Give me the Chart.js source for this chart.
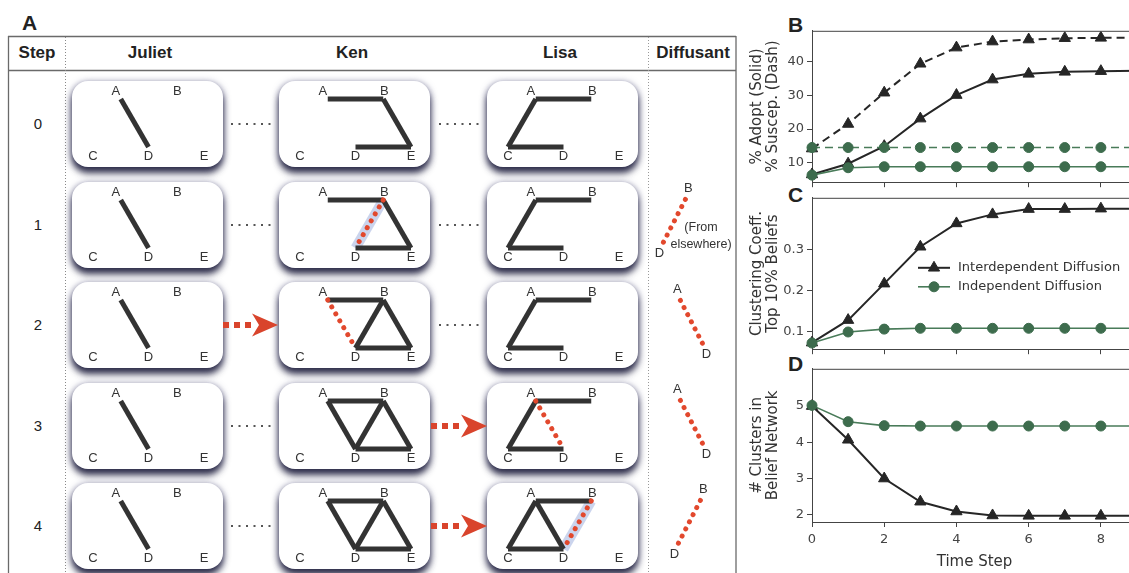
<!DOCTYPE html>
<html><head><meta charset="utf-8">
<script src="https://cdn.jsdelivr.net/npm/chart.js@4.4.1/dist/chart.umd.min.js"></script>
<style>
html,body{margin:0;padding:0;background:#fff;overflow:hidden;}
#page{position:relative;width:1129px;height:573px;overflow:hidden;font-family:"Liberation Sans",Arial,sans-serif;color:#222;}
.box{position:absolute;width:151px;height:86px;background:#fff;border-radius:16px;
 box-shadow:0 6px 7px rgba(30,30,60,0.9),0 1px 7px rgba(70,70,120,0.6);}
.box canvas,.free{position:absolute;left:0;top:0;}
.hdr{position:absolute;font-weight:bold;font-size:17px;line-height:20px;transform:translateX(-50%);white-space:nowrap;color:#222;}
.step{position:absolute;font-size:15px;line-height:18px;transform:translate(-50%,-50%);color:#222;}
.plab{position:absolute;font-weight:bold;font-size:21px;line-height:21px;color:#222;}
.note{position:absolute;font-size:12.5px;line-height:14px;color:#333;white-space:nowrap;transform:translate(-50%,-50%);}
</style></head>
<body><div id="page"></div>
<script>
// ================= DATA =================
const panelLetters = ['A','B','C','D'];
const columnHeaders = ['Step','Juliet','Ken','Lisa','Diffusant'];
const stepLabels = ['0','1','2','3','4'];
const nodeNames = ['A','B','C','D','E'];
const nodeX = [1, 3, 0, 2, 4];
const nodeY = [1, 1, 0, 0, 0];
const julietBeliefs = ['AD','AD','AD','AD','AD'];
const julietAdopting = ['','','','',''];
const julietHighlight = ['','','','',''];
const kenBeliefs = ['AB BE DE','AB BE DE','AB BE DE BD','AB BE DE BD AD','AB BE DE BD AD'];
const kenAdopting = ['','BD','AD','',''];
const kenHighlight = ['','BD','','',''];
const lisaBeliefs = ['AB AC CD','AB AC CD','AB AC CD','AB AC CD','AB AC CD AD'];
const lisaAdopting = ['','','','AD','BD'];
const lisaHighlight = ['','','','','BD'];
const diffusantEdges = ['','BD','AD','AD','BD'];
const diffusantNote = [[],['(From','elsewhere)'],[],[],[]];
const julietToKen = [0,0,1,0,0];   // 1 = transmission arrow, 0 = social tie
const kenToLisa  = [0,0,0,1,1];

const timeSteps = [0,1,2,3,4,5,6,7,8,9];
const seriesNames = ['Interdependent Diffusion','Independent Diffusion'];
const adoptInterdependent   = [6.5, 9.7, 14.9, 23.1, 30.1, 34.7, 36.4, 37.0, 37.2, 37.3];
const suscepInterdependent  = [14.2, 21.5, 30.8, 39.4, 44.2, 46.0, 46.6, 47.0, 47.1, 47.1];
const adoptIndependent      = [6.3, 8.5, 8.8, 8.8, 8.8, 8.8, 8.8, 8.8, 8.8, 8.8];
const suscepIndependent     = [14.5, 14.5, 14.5, 14.5, 14.5, 14.5, 14.5, 14.5, 14.5, 14.5];
const clusteringInterdependent = [0.072, 0.127, 0.216, 0.306, 0.363, 0.385, 0.398, 0.398, 0.399, 0.399];
const clusteringIndependent    = [0.071, 0.098, 0.105, 0.107, 0.107, 0.107, 0.107, 0.107, 0.107, 0.107];
const clustersInterdependent   = [5.0, 4.07, 3.0, 2.36, 2.09, 1.98, 1.97, 1.97, 1.97, 1.97];
const clustersIndependent      = [5.02, 4.57, 4.46, 4.45, 4.45, 4.45, 4.45, 4.45, 4.45, 4.45];
const xTickValues = [0,2,4,6,8];
const yTicksB = [10,20,30,40];
const yTicksC = [0.1,0.2,0.3];
const yTicksD = [2,3,4,5];
const yTitleB = ['% Adopt (Solid)','% Suscep. (Dash)'];
const yTitleC = ['Clustering Coeff.','Top 10% Beliefs'];
const yTitleD = ['# Clusters in','Belief Network'];
const xTitleD = 'Time Step';

// ================= LAYOUT / DRAWING =================
Chart.defaults.font.family = 'DejaVu Sans';
const page = document.getElementById('page');
function addDiv(cls, text, left, top){
  const d = document.createElement('div'); d.className = cls; d.textContent = text;
  d.style.left = left + 'px'; d.style.top = top + 'px'; page.appendChild(d); return d;
}
addDiv('plab', panelLetters[0], 22, 12);
addDiv('plab', panelLetters[1], 788, 14);
addDiv('plab', panelLetters[2], 788, 184);
addDiv('plab', panelLetters[3], 788, 353);
const hdrX = [37, 150, 352, 560, 693];
columnHeaders.forEach((h,i)=>addDiv('hdr', h, hdrX[i], 43));

const boxTops = stepLabels.map((s,i)=>Math.round(81 + 100.5*i));
const boxLeft = [72, 279, 487];

function splitEdges(s){ return s ? s.split(' ') : []; }
function edgeData(pair){
  const a = nodeNames.indexOf(pair[0]), b = nodeNames.indexOf(pair[1]);
  return [{x:nodeX[a], y:nodeY[a]}, {x:nodeX[b], y:nodeY[b]}];
}
const STYLE = {
  belief:{borderColor:'#333', borderWidth:5},
  adopting:{borderColor:'#e2482d', borderWidth:5, borderDash:[0.01,8], borderCapStyle:'round'},
  glow:{borderColor:'rgba(140,160,215,0.45)', borderWidth:10}
};
const labelPlugin = {
  id:'nodeLabels',
  beforeDatasetsDraw(chart, args, opts){
    const ctx = chart.ctx, xs = chart.scales.x, ys = chart.scales.y;
    ctx.save();
    ctx.font = '13px "Liberation Sans", Arial, sans-serif';
    ctx.fillStyle = '#333'; ctx.textAlign = 'center'; ctx.textBaseline = 'middle';
    (opts.labels||[]).forEach(l=>ctx.fillText(l.text, xs.getPixelForValue(l.x)+l.dx, ys.getPixelForValue(l.y)+l.dy));
    ctx.restore();
  }
};
function makeNet(parent, w, h, xr, yr, beliefs, adopting, highlight, labels){
  const c = document.createElement('canvas');
  c.width = w; c.height = h; c.style.width = w+'px'; c.style.height = h+'px';
  parent.appendChild(c);
  const datasets = [];
  splitEdges(highlight).forEach(e=>datasets.push(Object.assign({data:edgeData(e), order:3}, STYLE.glow)));
  splitEdges(beliefs).forEach(e=>datasets.push(Object.assign({data:edgeData(e), order:2}, STYLE.belief)));
  splitEdges(adopting).forEach(e=>datasets.push(Object.assign({data:edgeData(e), order:1}, STYLE.adopting)));
  datasets.forEach(d=>{ d.showLine = true; d.pointRadius = 0; d.pointHoverRadius = 0; d.clip = false; });
  new Chart(c, {type:'scatter', data:{datasets},
    options:{responsive:false, animation:false, devicePixelRatio:1, events:[],
      layout:{padding:0, autoPadding:false},
      scales:{x:{type:'linear', display:false, min:xr[0], max:xr[1]},
              y:{type:'linear', display:false, min:yr[0], max:yr[1]}},
      plugins:{legend:{display:false}, tooltip:{enabled:false}, nodeLabels:{labels}}},
    plugins:[labelPlugin]});
}
const boxLabels = nodeNames.map((n,i)=>({text:n, x:nodeX[i], y:nodeY[i],
  dx: nodeY[i]===1 ? (nodeX[i]<2 ? -5 : 1) : 0, dy: nodeY[i]===1 ? -8 : 9}));
const boxXR = [-0.757, 4.685], boxYR = [-0.417, 1.375];
const agents = [[julietBeliefs, julietAdopting, julietHighlight],[kenBeliefs, kenAdopting, kenHighlight],[lisaBeliefs, lisaAdopting, lisaHighlight]];
stepLabels.forEach((s,i)=>{
  addDiv('step', s, 38, boxTops[i]+43);
  agents.forEach((ag,j)=>{
    const d = document.createElement('div'); d.className = 'box';
    d.style.left = boxLeft[j]+'px'; d.style.top = boxTops[i]+'px'; page.appendChild(d);
    makeNet(d, 151, 86, boxXR, boxYR, ag[0][i], ag[1][i], ag[2][i], boxLabels);
  });
});
const diffPos = [null, [626,178], [665,279], [665,379], [641,479]];
stepLabels.forEach((s,i)=>{
  if (!diffusantEdges[i]) return;
  const pair = diffusantEdges[i];
  const a = nodeNames.indexOf(pair[0]), b = nodeNames.indexOf(pair[1]);
  const top = nodeY[a] >= nodeY[b] ? a : b, bot = top===a ? b : a;
  const sgn = Math.sign(nodeX[top]-nodeX[bot]);
  const labels = [{text:nodeNames[top], x:nodeX[top], y:nodeY[top], dx:3*sgn, dy:-11},
                  {text:nodeNames[bot], x:nodeX[bot], y:nodeY[bot], dx:-4*sgn, dy:11}];
  const holder = document.createElement('div');
  holder.style.position = 'absolute'; holder.style.left = diffPos[i][0]+'px'; holder.style.top = diffPos[i][1]+'px';
  page.appendChild(holder);
  makeNet(holder, 77, 90, [0.3, 3.8], [-0.6, 1.5], '', pair, '', labels);
  diffusantNote[i].forEach((t,k)=>addDiv('note', t, 701, 227 + k*17));
});

const svgNS = 'http://www.w3.org/2000/svg';
const svg = document.createElementNS(svgNS,'svg');
svg.setAttribute('width',1129); svg.setAttribute('height',573);
svg.style.position='absolute'; svg.style.left='0'; svg.style.top='0'; svg.style.pointerEvents='none';
page.appendChild(svg);
function sv(tag, attrs){ const e = document.createElementNS(svgNS, tag); for (const k in attrs) e.setAttribute(k, attrs[k]); svg.appendChild(e); return e; }
const lineCol = '#6a6a6a';
sv('line',{x1:8,y1:36.5,x2:736,y2:36.5,stroke:lineCol,'stroke-width':1.3});
sv('line',{x1:8,y1:70.5,x2:736,y2:70.5,stroke:lineCol,'stroke-width':1.3});
sv('line',{x1:8.5,y1:36,x2:8.5,y2:573,stroke:lineCol,'stroke-width':1.3});
sv('line',{x1:736,y1:36,x2:736,y2:573,stroke:lineCol,'stroke-width':1.3});
sv('line',{x1:65.5,y1:37,x2:65.5,y2:573,stroke:'#888','stroke-width':1,'stroke-dasharray':'1 2'});
sv('line',{x1:648.5,y1:37,x2:648.5,y2:573,stroke:'#999','stroke-width':1,'stroke-dasharray':'1 2'});
function link(ax0, ax1, y, isArrow){
  if (isArrow){
    sv('line',{x1:ax0,y1:y,x2:ax1-24,y2:y,stroke:'#d9442c','stroke-width':6,'stroke-dasharray':'6 5'});
    sv('polygon',{points:`${ax1-26},${y-11.5} ${ax1},${y} ${ax1-26},${y+11.5} ${ax1-19},${y}`, fill:'#d9442c'});
  } else {
    sv('line',{x1:ax0+8,y1:y,x2:ax1-4,y2:y,stroke:'#555','stroke-width':2,'stroke-dasharray':'2 5.5'});
  }
}
stepLabels.forEach((s,i)=>{
  const y = boxTops[i]+43;
  link(223, 278, y, julietToKen[i]);
  link(431, 487, y, kenToLisa[i]);
});

// ================= RIGHT PANELS =================
const framePlugin = {id:'frame', afterDraw(chart){
  const {ctx, chartArea:a} = chart; ctx.save(); ctx.strokeStyle = '#444'; ctx.lineWidth = 1;
  ctx.beginPath(); ctx.moveTo(a.left, a.top+0.5); ctx.lineTo(a.right, a.top+0.5);
  ctx.moveTo(a.right-0.5, a.top); ctx.lineTo(a.right-0.5, a.bottom); ctx.stroke(); ctx.restore();
}};
const legendPlugin = {id:'insideLegend', afterDatasetsDraw(chart, args, opts){
  if (!opts || !opts.items) return;
  const ctx = chart.ctx, a = chart.chartArea;
  opts.items.forEach((idx,i)=>{
    const ds = chart.data.datasets[idx];
    const x0 = a.left + opts.left, y = a.top + opts.top + i*opts.gap;
    ctx.save();
    ctx.strokeStyle = ds.borderColor; ctx.lineWidth = ds.borderWidth; ctx.setLineDash([]);
    ctx.beginPath(); ctx.moveTo(x0, y); ctx.lineTo(x0+32, y); ctx.stroke();
    ctx.fillStyle = ds.pointBackgroundColor; ctx.strokeStyle = ds.pointBorderColor; ctx.lineWidth = 1;
    Chart.helpers.drawPoint(ctx, {pointStyle:ds.pointStyle, radius:ds.pointRadius, borderWidth:1, rotation:0}, x0+16, y);
    ctx.fillStyle = '#333'; ctx.font = '13px "DejaVu Sans"'; ctx.textAlign = 'left'; ctx.textBaseline = 'middle';
    ctx.fillText(ds.label, x0+40, y);
    ctx.restore();
  });
}};
function series(label, values, inter, dashed){
  const col = inter ? '#262626' : '#3d6c4d';
  return {label, data: timeSteps.map((t,i)=>({x:t, y:values[i]})), showLine:true,
    borderColor: inter ? '#262626' : '#497b59', borderWidth: inter ? 2 : 1.6, borderDash: dashed ? [8,5] : [],
    pointStyle: inter ? 'triangle' : 'circle', pointRadius: inter ? 6.5 : 5, pointHoverRadius:0,
    pointBackgroundColor: col, pointBorderColor: col, pointBorderWidth:1,
    order: inter ? 2 : 1, clip:{left:8, top:8, right:0, bottom:8}};
}
function panel(cfg){
  const c = document.createElement('canvas');
  c.width = 407; c.height = cfg.height; c.className = 'free';
  c.style.left = '738px'; c.style.top = cfg.top+'px'; c.style.width = '407px'; c.style.height = cfg.height+'px';
  page.appendChild(c);
  const tickFont = {family:'DejaVu Sans', size:13};
  new Chart(c, {type:'scatter', data:{datasets:cfg.datasets},
    options:{responsive:false, animation:false, devicePixelRatio:1, events:[],
      layout:{padding:{top:cfg.padTop, right:8, left:0, bottom:0}, autoPadding:false},
      scales:{
        x:{type:'linear', min:0, max:9,
          afterBuildTicks:s=>{ s.ticks = xTickValues.map(v=>({value:v})); },
          afterFit:s=>{ s.height = cfg.xHeight; },
          grid:{drawOnChartArea:false, drawTicks:true, tickLength:5, tickColor:'#444'},
          border:{color:'#444', width:1},
          ticks:{display:!!cfg.xLabels, padding:5, color:'#444', font:tickFont, maxRotation:0, autoSkip:false, callback:v=>String(v)},
          title:{display:!!cfg.xTitle, text:cfg.xTitle||'', color:'#333', font:{family:'DejaVu Sans', size:15}, padding:{top:0, bottom:2}}},
        y:{type:'linear', min:cfg.yr[0], max:cfg.yr[1],
          afterBuildTicks:s=>{ s.ticks = cfg.yTicks.map(v=>({value:v})); },
          afterFit:s=>{ s.width = 74; },
          grid:{drawOnChartArea:false, drawTicks:true, tickLength:5, tickColor:'#444'},
          border:{color:'#444', width:1},
          ticks:{padding:3, color:'#444', font:tickFont, callback:v=>String(v)},
          title:{display:true, text:cfg.yTitle, color:'#333', font:{family:'DejaVu Sans', size:15, lineHeight:1.07}, padding:{top:11, bottom:0}}}
      },
      plugins:{legend:{display:false}, tooltip:{enabled:false}, insideLegend:cfg.legend||{}}},
    plugins:[framePlugin, legendPlugin]});
}
panel({top:20, height:173, padTop:9, xHeight:8, yr:[4.2, 49.2], yTicks:yTicksB, yTitle:yTitleB,
  datasets:[series(seriesNames[0], adoptInterdependent, true, false), series(seriesNames[0], suscepInterdependent, true, true),
            series(seriesNames[1], adoptIndependent, false, false), series(seriesNames[1], suscepIndependent, false, true)]});
panel({top:187, height:173, padTop:8, xHeight:8, yr:[0.056, 0.4255], yTicks:yTicksC, yTitle:yTitleC,
  datasets:[series(seriesNames[0], clusteringInterdependent, true, false), series(seriesNames[1], clusteringIndependent, false, false)],
  legend:{items:[0,1], left:106, top:70, gap:19}});
panel({top:358, height:215, padTop:7, xHeight:51, yr:[1.8, 6.03], yTicks:yTicksD, yTitle:yTitleD, xLabels:true, xTitle:xTitleD,
  datasets:[series(seriesNames[0], clustersInterdependent, true, false), series(seriesNames[1], clustersIndependent, false, false)]});
</script>
</body></html>
